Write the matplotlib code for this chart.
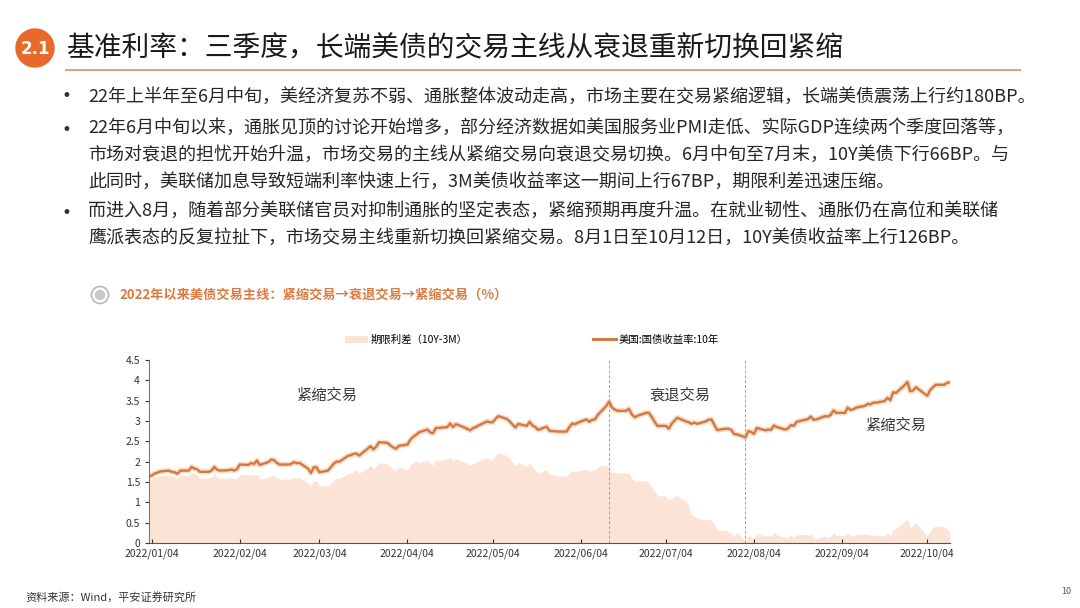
import numpy as np
import pandas as pd
import matplotlib
matplotlib.use("Agg")
import matplotlib.pyplot as plt
import matplotlib.dates as mdates
from matplotlib.patches import Ellipse, Patch
from matplotlib.lines import Line2D

plt.rcParams['font.family'] = ['Noto Sans CJK SC', 'DejaVu Sans']

# 数据（交易日，2022/01/03 - 2022/10/12）
# 美国:国债收益率:10年 (%)
y10 = [
    # 1月
    1.63, 1.66, 1.71, 1.73, 1.76, 1.78, 1.75, 1.74, 1.70, 1.78, 1.78,
    1.87, 1.83, 1.81, 1.75, 1.75, 1.78, 1.87, 1.80, 1.78, 1.79,
    # 2月
    1.81, 1.78, 1.82, 1.93, 1.92, 1.97, 1.94, 2.03, 1.92, 1.99,
    2.05, 2.04, 1.97, 1.93, 1.93, 1.94, 1.99, 1.96, 1.97, 1.83,
    # 3月
    1.72, 1.86, 1.86, 1.74, 1.78, 1.86, 1.95, 2.00, 2.00, 2.14, 2.16, 2.19,
    2.20, 2.15, 2.32, 2.38, 2.30, 2.37, 2.48, 2.46, 2.40, 2.35, 2.32,
    # 4月
    2.39, 2.42, 2.54, 2.61, 2.66, 2.72, 2.79, 2.72, 2.70, 2.83, 2.83,
    2.85, 2.94, 2.85, 2.92, 2.90, 2.81, 2.77, 2.82, 2.85, 2.89,
    # 5月
    2.99, 2.97, 2.97, 3.05, 3.12, 3.05, 2.99, 2.91, 2.84, 2.93, 2.88,
    2.98, 2.89, 2.85, 2.78, 2.86, 2.76, 2.75, 2.75, 2.74, 2.74, 2.85,
    # 6月
    2.94, 2.92, 2.96, 3.04, 2.98, 3.03, 3.04, 3.15, 3.37, 3.48, 3.33,
    3.28, 3.25, 3.25, 3.30, 3.16, 3.09, 3.13, 3.20, 3.20, 3.10, 2.98,
    # 7月
    2.88, 2.88, 2.81, 2.93, 3.01, 3.08, 2.99, 2.97, 2.93, 2.96, 2.93,
    2.99, 3.03, 3.04, 2.91, 2.78, 2.81, 2.81, 2.78, 2.68, 2.67,
    # 8月
    2.60, 2.75, 2.73, 2.68, 2.83, 2.77, 2.79, 2.78, 2.89, 2.85, 2.79, 2.82,
    2.90, 2.88, 2.98, 3.03, 3.05, 3.11, 3.03, 3.04, 3.12, 3.11, 3.15,
    # 9月
    3.26, 3.20, 3.20, 3.33, 3.27, 3.29, 3.33, 3.37, 3.42, 3.41, 3.45,
    3.45, 3.49, 3.57, 3.51, 3.71, 3.69, 3.88, 3.96, 3.73, 3.75, 3.83,
    # 10月
    3.67, 3.62, 3.76, 3.83, 3.89, 3.89, 3.94, 3.95,
]

# 期限利差（10Y-3M）(%)
spread = [
    # 1月
    1.55, 1.57, 1.62, 1.63, 1.66, 1.67, 1.64, 1.63, 1.59, 1.66, 1.66,
    1.74, 1.70, 1.67, 1.60, 1.60, 1.62, 1.70, 1.62, 1.59, 1.60,
    # 2月
    1.60, 1.58, 1.60, 1.69, 1.68, 1.70, 1.67, 1.69, 1.57, 1.61,
    1.66, 1.66, 1.60, 1.57, 1.57, 1.58, 1.62, 1.59, 1.61, 1.48,
    # 3月
    1.40, 1.54, 1.52, 1.40, 1.41, 1.47, 1.54, 1.59, 1.58, 1.71, 1.72, 1.76,
    1.80, 1.72, 1.84, 1.91, 1.83, 1.89, 1.98, 1.94, 1.88, 1.81, 1.80,
    # 4月
    1.87, 1.80, 1.92, 1.99, 2.02, 1.98, 2.03, 1.95, 1.92, 2.05, 2.03,
    2.06, 2.12, 2.03, 2.08, 2.05, 1.96, 1.92, 1.96, 1.98, 2.02,
    # 5月
    2.10, 2.07, 2.05, 2.15, 2.22, 2.15, 2.07, 1.99, 1.90, 1.98, 1.88,
    1.96, 1.86, 1.80, 1.73, 1.80, 1.70, 1.68, 1.67, 1.65, 1.65, 1.72,
    # 6月
    1.78, 1.75, 1.77, 1.82, 1.76, 1.80, 1.79, 1.88, 1.92, 1.84, 1.73,
    1.75, 1.72, 1.72, 1.72, 1.58, 1.51, 1.53, 1.53, 1.48, 1.38, 1.26,
    # 7月
    1.16, 1.16, 1.05, 1.10, 1.14, 1.16, 1.03, 0.92, 0.68, 0.66, 0.60,
    0.57, 0.58, 0.57, 0.47, 0.32, 0.31, 0.28, 0.24, 0.15, 0.26,
    # 8月
    0.05, 0.19, 0.16, 0.09, 0.24, 0.17, 0.18, 0.15, 0.26, 0.20, 0.13, 0.14,
    0.20, 0.13, 0.20, 0.21, 0.18, 0.23, 0.12, 0.11, 0.16, 0.14, 0.17,
    # 9月
    0.26, 0.19, 0.18, 0.24, 0.17, 0.18, 0.21, 0.22, 0.22, 0.19, 0.20,
    0.18, 0.18, 0.25, 0.18, 0.32, 0.36, 0.53, 0.58, 0.38, 0.42, 0.50,
    # 10月
    0.25, 0.18, 0.30, 0.38, 0.42, 0.40, 0.33, 0.26,
]

dates = pd.bdate_range("2022-01-03", "2022-10-12")
tick_dates = pd.to_datetime(["2022-%02d-04" % m for m in range(1, 11)])
switch_dates = pd.to_datetime(["2022-06-14", "2022-08-01"])

bullets = [
    "22年上半年至6月中旬，美经济复苏不弱、通胀整体波动走高，市场主要在交易紧缩逻辑，长端美债震荡上行约180BP。",
    "22年6月中旬以来，通胀见顶的讨论开始增多，部分经济数据如美国服务业PMI走低、实际GDP连续两个季度回落等，\n"
    "市场对衰退的担忧开始升温，市场交易的主线从紧缩交易向衰退交易切换。6月中旬至7月末，10Y美债下行66BP。与\n"
    "此同时，美联储加息导致短端利率快速上行，3M美债收益率这一期间上行67BP，期限利差迅速压缩。",
    "而进入8月，随着部分美联储官员对抑制通胀的坚定表态，紧缩预期再度升温。在就业韧性、通胀仍在高位和美联储\n"
    "鹰派表态的反复拉扯下，市场交易主线重新切换回紧缩交易。8月1日至10月12日，10Y美债收益率上行126BP。",
]

W, H = 1080, 608
fig = plt.figure(figsize=(W / 100, H / 100), dpi=100)


def fx(x):
    return x / W


def fy(y):
    return 1 - y / H


orange = "#e8692a"
line_c = "#cf7a44"
fill_c = "#fbe4d6"

# 标题
fig.patches.append(Ellipse((fx(35), fy(48)), 38 / W, 38 / H, transform=fig.transFigure,
                           color=orange, zorder=2))
fig.text(fx(35), fy(49), "2.1", color="white", fontsize=12, fontweight="bold",
         ha="center", va="center", family=["DejaVu Sans"])
fig.text(fx(66), fy(48), "基准利率：三季度，长端美债的交易主线从衰退重新切换回紧缩",
         fontsize=20, ha="left", va="center", color="#1a1a1a")
fig.add_artist(Line2D([fx(66), fx(1020)], [fy(70), fy(70)], transform=fig.transFigure,
                      color="#e2a47c", lw=1.5))

# 正文要点
line_y = [97, 131, 214]
for y, txt in zip(line_y, bullets):
    fig.text(fx(66), fy(y - 1), "•", fontsize=12, ha="center", va="center", color="#333333",
             family=["DejaVu Sans"])
    if "\n" in txt:
        fig.text(fx(88), fy(y - 12), txt, fontsize=13, ha="left", va="top",
                 color="#262626", linespacing=1.62)
    else:
        fig.text(fx(88), fy(y), txt, fontsize=13, ha="left", va="center", color="#262626")

# 图表标题
fig.patches.append(Ellipse((fx(100), fy(295)), 17 / W, 17 / H, transform=fig.transFigure,
                           facecolor="none", edgecolor="#b8b8b8", lw=1.2))
fig.patches.append(Ellipse((fx(100), fy(295)), 9 / W, 9 / H, transform=fig.transFigure,
                           color="#c8c8c8"))
fig.text(fx(119), fy(295), "2022年以来美债交易主线：紧缩交易→衰退交易→紧缩交易（%）",
         fontsize=9.5, color="#dc7a40", ha="left", va="center", fontweight="bold")

# 主图
left_px, right_px = 149, 950
top_px, bottom_px = 360, 543
ax = fig.add_axes([fx(left_px), fy(bottom_px), (right_px - left_px) / W, (bottom_px - top_px) / H])

ax.fill_between(dates, 0, spread, color=fill_c, lw=0, label="期限利差（10Y-3M）")
ax.plot(dates, y10, color="#f8d5bb", lw=4, alpha=0.8, solid_capstyle="round")
ax.plot(dates, y10, color=line_c, lw=1.7, label="美国:国债收益率:10年")
for d in switch_dates:
    ax.axvline(d, color="#a0a0a0", lw=0.7, ls=(0, (3, 2)))

ax.set_xlim(dates[0], dates[-1])
ax.set_ylim(0, 4.5)
ax.set_yticks(np.arange(0, 4.51, 0.5))
ax.set_yticklabels(["0", "0.5", "1", "1.5", "2", "2.5", "3", "3.5", "4", "4.5"])
ax.set_xticks(tick_dates)
ax.xaxis.set_major_formatter(mdates.DateFormatter("%Y/%m/%d"))
ax.tick_params(axis="x", direction="in", length=3, labelsize=7.5, colors="#333333", pad=4)
ax.tick_params(axis="y", direction="out", length=3, labelsize=7.5, colors="#333333")
for s in ["top", "right"]:
    ax.spines[s].set_visible(False)
ax.spines["left"].set_color("#777777")
ax.spines["bottom"].set_color("#555555")
ax.set_facecolor("none")

notes = [("2022-03-07", 3.64, "紧缩交易"), ("2022-07-09", 3.64, "衰退交易"),
         ("2022-09-23", 2.9, "紧缩交易")]
for d, v, s in notes:
    ax.text(pd.Timestamp(d), v, s, fontsize=11, color="#3a3a3a", ha="center", va="center",
            fontweight="light")

handles = [Patch(facecolor=fill_c, edgecolor="none", label="期限利差（10Y-3M）"),
           Line2D([], [], color=line_c, lw=2.2, label="美国:国债收益率:10年")]
fig.legend(handles=handles, loc="center", bbox_to_anchor=(fx(532), fy(340)), ncol=2,
           frameon=False, fontsize=7.5, columnspacing=12, handlelength=2.2,
           handletextpad=0.3)

# 资料来源与页码
fig.text(fx(25), fy(597), "资料来源：Wind，平安证券研究所", fontsize=8, color="#333333",
         ha="left", va="center")
fig.text(fx(1066), fy(592), "10", fontsize=6.5, color="#555555", ha="center", va="center")

fig.savefig("out.png", dpi=100)
